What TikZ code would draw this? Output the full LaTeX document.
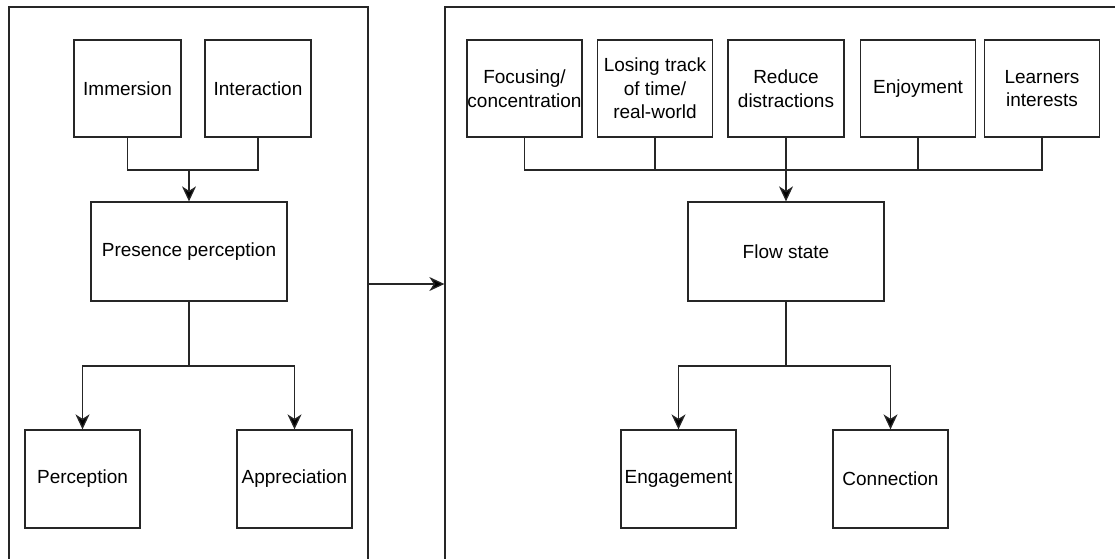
\documentclass[tikz,border=0pt]{standalone}
\usepackage{fontspec}
\setmainfont{Liberation Sans}
\usetikzlibrary{arrows.meta}
\definecolor{ink}{HTML}{262626}
\tikzset{
  box/.style={draw=ink, line width=1.3pt, fill=white, align=center, inner sep=0pt,
    font=\fontsize{19}{23.5}\selectfont, text=black},
  panel/.style={draw=ink, line width=1.3pt, inner sep=0pt},
  link/.style={draw=ink, line width=1.3pt},
  flowarrow/.style={link, -{Stealth[length=15pt, width=14pt, inset=4.5pt, fill=black]}},
}
\begin{document}
\begin{tikzpicture}[x=1pt, y=-1pt]
\useasboundingbox (0,0) rectangle (1115,558);
\clip (0,0) rectangle (1115,558);

% containers (open past the lower and right edges)
\node[panel, minimum width=359pt, minimum height=620pt] (leftpanel) at (188.5,317) {};
\node[panel, minimum width=700pt, minimum height=620pt] (rightpanel) at (795,317) {};

% left panel: presence
\node[box, minimum width=107pt, minimum height=97pt] (imm) at (127.5,88.5) {Immersion};
\node[box, minimum width=106pt, minimum height=97pt] (int) at (258,88.5) {Interaction};
\node[box, minimum width=196pt, minimum height=99pt] (pres) at (189,251.5) {Presence perception};
\node[box, minimum width=115pt, minimum height=98pt] (perc) at (82.5,479) {Perception};
\node[box, minimum width=115pt, minimum height=98pt] (appr) at (294.5,479) {Appreciation};

\coordinate (j1) at (189,170);
\coordinate (j2) at (189,366);
\draw[link] (imm.south) |- (j1) -| (int.south);
\draw[flowarrow] (j1) -- (pres.north);
\draw[link] (pres.south) -- (j2);
\draw[flowarrow] (j2) -| (perc.north);
\draw[flowarrow] (j2) -| (appr.north);

% right panel: flow
\node[box, minimum width=115pt, minimum height=97pt] (foc) at (524.5,88.5) {Focusing/\\concentration};
\node[box, minimum width=115pt, minimum height=97pt] (los) at (655,88.5) {Losing track\\of time/\\real-world};
\node[box, minimum width=116pt, minimum height=97pt] (red) at (786,88.5) {Reduce\\distractions};
\node[box, minimum width=115pt, minimum height=97pt] (enj) at (918,88.5) {Enjoyment};
\node[box, minimum width=115pt, minimum height=97pt] (lrn) at (1042,88.5) {Learners\\interests};
\node[box, minimum width=196pt, minimum height=99pt] (flow) at (786,251.5) {Flow state};
\node[box, minimum width=115pt, minimum height=98pt] (eng) at (678.5,479) {Engagement};
\node[box, minimum width=115pt, minimum height=98pt] (con) at (890.5,479) {Connection};

\coordinate (j3) at (786,170);
\coordinate (j4) at (786,366);
\draw[link] (foc.south) |- (j3) -| (lrn.south);
\draw[link] (los.south) -- (los.south |- j3);
\draw[link] (enj.south) -- (enj.south |- j3);
\draw[flowarrow] (red.south) -- (flow.north);
\draw[link] (flow.south) -- (j4);
\draw[flowarrow] (j4) -| (eng.north);
\draw[flowarrow] (j4) -| (con.north);

% hand-over between the two panels
\coordinate (h) at (0,284);
\draw[flowarrow] (leftpanel.east |- h) -- (rightpanel.west |- h);
\end{tikzpicture}
\end{document}
